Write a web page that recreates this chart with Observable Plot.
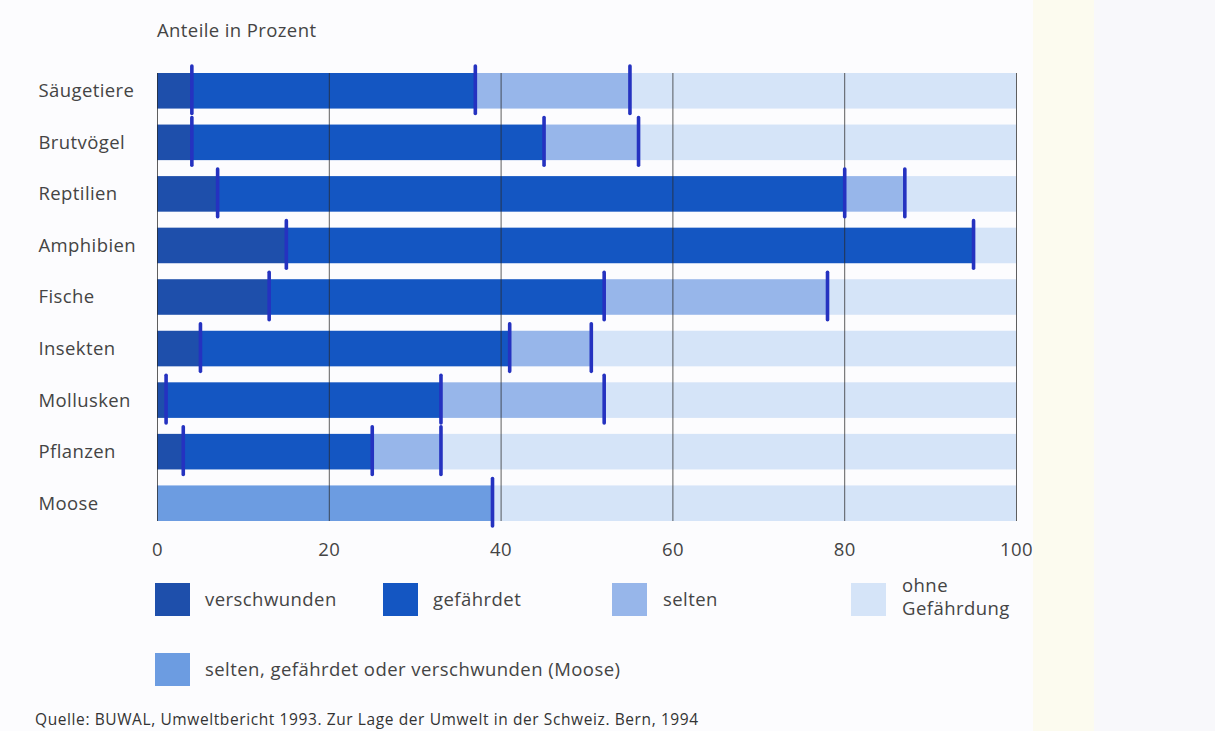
<!DOCTYPE html>
<html>
<head>
<meta charset="utf-8">
<script src="https://cdn.jsdelivr.net/npm/d3@7"></script>
<script src="https://cdn.jsdelivr.net/npm/@observablehq/plot@0.6"></script>
<style>
  html, body { margin: 0; padding: 0; }
  body { width: 1215px; height: 731px; position: relative; overflow: hidden;
         background: #fcfcfe; font-family: "Open Sans", "Noto Sans", sans-serif; color: #444; }
  #strip { position: absolute; left: 1033px; top: 0; width: 61px; height: 731px; background: #fcfbef; }
  #rightpage { position: absolute; left: 1094px; top: 0; width: 121px; height: 731px; background: #f8f8fb; }
  #title { position: absolute; left: 157px; top: 17px; font-size: 18.5px; letter-spacing: 0.4px; color: #444; }
  #chart { position: absolute; left: 0; top: 0; }
  .lg { position: absolute; font-size: 18.5px; letter-spacing: 0.45px; color: #444; line-height: 23px; }
  .sw { position: absolute; width: 35px; height: 33px; }
  #source { position: absolute; left: 35px; top: 708px; font-size: 15.5px; letter-spacing: 0.6px; color: #333; }
  svg text { letter-spacing: 0.4px; }
</style>
</head>
<body>
<div id="strip"></div>
<div id="rightpage"></div>
<div id="title">Anteile in Prozent</div>
<div id="chart"></div>
<div id="legend"></div>
<div id="source">Quelle: BUWAL, Umweltbericht 1993. Zur Lage der Umwelt in der Schweiz. Bern, 1994</div>
<script>
// ---- data (percent shares) ----
const categories = ["Säugetiere", "Brutvögel", "Reptilien", "Amphibien", "Fische", "Insekten", "Mollusken", "Pflanzen", "Moose"];
const verschwunden = [4, 4, 7, 15, 13, 5, 1, 3, null];
const gefaehrdet   = [33, 41, 73, 80, 39, 36, 32, 22, null];
const selten       = [18, 11, 7, 0, 26, 9.5, 19, 8, null];
const mooseGesamt  = [null, null, null, null, null, null, null, null, 39]; // selten, gefährdet oder verschwunden (Moose)
const xTicks = [0, 20, 40, 60, 80, 100];

const kinds = ["verschwunden", "gefährdet", "selten", "ohne Gefährdung", "selten, gefährdet oder verschwunden (Moose)"];
const kindColors = ["#1e4fab", "#1456c2", "#97b6ea", "#d5e4f8", "#6c9ce1"];
const markerColor = "#2532c0";

// ---- build segments ----
const segments = [];
const markers = [];
categories.forEach((c, i) => {
  if (mooseGesamt[i] != null) {
    const m = mooseGesamt[i];
    segments.push({cat: c, kind: kinds[4], x1: 0, x2: m});
    segments.push({cat: c, kind: kinds[3], x1: m, x2: 100});
    markers.push({cat: c, x: m});
    return;
  }
  const a = verschwunden[i], b = a + gefaehrdet[i], s = b + selten[i];
  segments.push({cat: c, kind: kinds[0], x1: 0, x2: a});
  segments.push({cat: c, kind: kinds[1], x1: a, x2: b});
  if (selten[i] > 0) segments.push({cat: c, kind: kinds[2], x1: b, x2: s});
  segments.push({cat: c, kind: kinds[3], x1: s, x2: 100});
  markers.push({cat: c, x: a});
  markers.push({cat: c, x: b});
  if (selten[i] > 0) markers.push({cat: c, x: s});
});

const chart = Plot.plot({
  width: 1215,
  height: 570,
  marginLeft: 157,
  marginRight: 199,
  marginTop: 73,
  marginBottom: 49,
  style: {background: "transparent", fontFamily: "'Open Sans', 'Noto Sans', sans-serif", color: "#444"},
  x: {domain: [0, 100], axis: null},
  y: {domain: categories, axis: null, paddingInner: 0.31, paddingOuter: 0, round: false},
  color: {domain: kinds, range: kindColors},
  marks: [
    Plot.barX(segments, {x1: "x1", x2: "x2", y: "cat", fill: "kind"}),
    Plot.ruleX(xTicks, {stroke: "#2a2a2a", strokeWidth: 1, strokeOpacity: 0.75}),
    Plot.tickX(markers, {x: "x", y: "cat", stroke: markerColor, strokeWidth: 3.6, strokeLinecap: "round", insetTop: -7, insetBottom: -5}),
    Plot.text(categories, {x: 0, y: d => d, text: d => d, dx: -119, textAnchor: "start", fontSize: 18.5, fill: "#444"}),
    Plot.axisX(xTicks, {tickSize: 0, tickPadding: 21, fontSize: 18.5, label: null, tickFormat: d => String(d), fill: "#444"})
  ]
});
document.getElementById("chart").appendChild(chart);

// ---- legend (HTML) ----
const legendItems = [
  {kind: 0, sx: 155, sy: 583, tx: 205, ty: 587, text: "verschwunden"},
  {kind: 1, sx: 383, sy: 583, tx: 433, ty: 587, text: "gefährdet"},
  {kind: 2, sx: 612, sy: 583, tx: 663, ty: 587, text: "selten"},
  {kind: 3, sx: 851, sy: 583, tx: 902, ty: 573, text: "ohne<br>Gefährdung"},
  {kind: 4, sx: 155, sy: 653, tx: 205, ty: 657, text: "selten, gefährdet oder verschwunden (Moose)"}
];
const lg = document.getElementById("legend");
legendItems.forEach(it => {
  const sw = document.createElement("div");
  sw.className = "sw";
  sw.style.left = it.sx + "px"; sw.style.top = it.sy + "px";
  sw.style.background = kindColors[it.kind];
  lg.appendChild(sw);
  const t = document.createElement("div");
  t.className = "lg";
  t.style.left = it.tx + "px"; t.style.top = it.ty + "px";
  t.innerHTML = it.text;
  lg.appendChild(t);
});
</script>
</body>
</html>
